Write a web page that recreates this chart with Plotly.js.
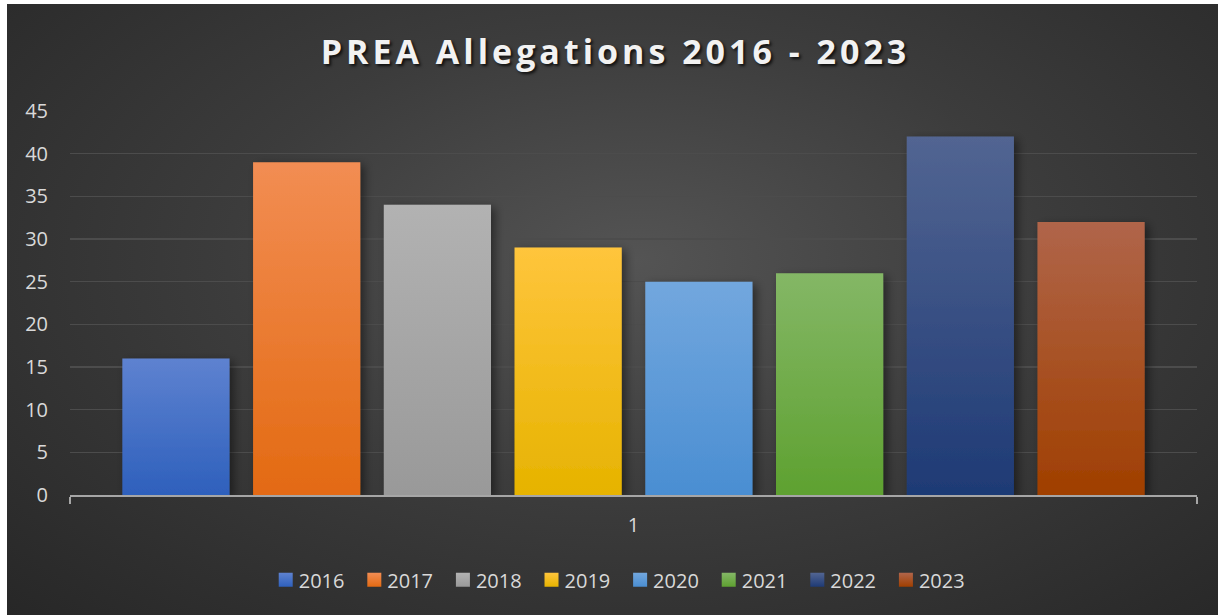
<!DOCTYPE html>
<html>
<head>
<meta charset="utf-8">
<script src="https://cdn.plot.ly/plotly-3.0.1.min.js"></script>
<style>
  html, body { margin: 0; padding: 0; background: #ffffff; width: 1218px; height: 615px; overflow: hidden; }
  #wrap { position: absolute; left: 7px; top: 4px; width: 1211px; height: 611px;
          background: radial-gradient(ellipse 75% 85% at 52% 42%, #545454 0%, #3c3c3c 45%, #262626 100%); }
  #chart { width: 1211px; height: 611px; }
</style>
</head>
<body>
<div id="wrap"><div id="chart"></div></div>
<script>
const categories = ["1"];
const years = ["2016", "2017", "2018", "2019", "2020", "2021", "2022", "2023"];
const allegations = [16, 39, 34, 29, 25, 26, 42, 32];
const yTicks = [0, 5, 10, 15, 20, 25, 30, 35, 40, 45];
const colorsTop = ["#5e82d0", "#f28d53", "#b2b2b2", "#ffc53c", "#72a7de", "#84b766", "#526592", "#b0654a"];
const colorsBottom = ["#2e60bc", "#e36a12", "#999999", "#e6b300", "#4a8ed2", "#5ea130", "#1e3a75", "#a03f00"];
const colorsMid = ["#3f6fc6", "#ec7a2c", "#a5a5a5", "#ffc000", "#5b9bd5", "#70ad47", "#264478", "#9e480e"];

const font = "'Open Sans', 'Liberation Sans', sans-serif";

const traces = years.map((yr, i) => ({
  type: "bar",
  name: yr,
  x: categories,
  y: [allegations[i]],
  marker: { color: colorsMid[i], line: { width: 0 } },
  hoverinfo: "skip"
}));

const layout = {
  width: 1211,
  height: 611,
  paper_bgcolor: "rgba(0,0,0,0)",
  plot_bgcolor: "rgba(0,0,0,0)",
  margin: { l: 63, r: 21, t: 107, b: 120 },
  barmode: "group",
  bargap: 0.072,
  bargroupgap: 0.18,
  showlegend: true,
  title: {
    text: "<b>PREA Allegations 2016 - 2023</b>",
    x: 0.5025,
    xanchor: "center",
    yref: "container",
    y: 0.921,
    yanchor: "middle",
    font: { family: font, size: 34, color: "#f2f2f2", shadow: "2px 2px 3px rgba(0,0,0,0.75)" }
  },
  xaxis: {
    type: "category",
    range: [-0.5, 0.5],
    showline: true,
    linecolor: "#a6a6a6",
    linewidth: 2,
    ticks: "outside",
    tickson: "boundaries",
    ticklen: 7,
    tickwidth: 2,
    tickcolor: "#a6a6a6",
    showgrid: false,
    ticklabelstandoff: 11,
    tickfont: { family: font, size: 20, color: "#d9d9d9" },
    fixedrange: true
  },
  yaxis: {
    range: [0, 45],
    tickvals: yTicks,
    ticktext: yTicks.map(String),
    showgrid: true,
    gridcolor: "#4c4c4c",
    gridwidth: 1.5,
    zeroline: false,
    showline: false,
    ticks: "",
    ticklabelstandoff: 21,
    tickfont: { family: font, size: 20, color: "#d9d9d9" },
    fixedrange: true
  },
  legend: {
    orientation: "h",
    x: 0.482,
    xanchor: "center",
    y: -0.221,
    yanchor: "middle",
    entrywidth: 43.6,
    entrywidthmode: "pixels",
    font: { family: font, size: 20, color: "#d9d9d9" },
    bgcolor: "rgba(0,0,0,0)",
    itemclick: false,
    itemdoubleclick: false
  }
};

Plotly.newPlot("chart", traces, layout, { displayModeBar: false, staticPlot: true }).then(gd => {
  const svgNS = "http://www.w3.org/2000/svg";
  const svg = gd.querySelector("svg.main-svg");
  let defs = svg.querySelector("defs");
  if (!defs) { defs = document.createElementNS(svgNS, "defs"); svg.insertBefore(defs, svg.firstChild); }
  const filt = document.createElementNS(svgNS, "filter");
  filt.setAttribute("id", "barShadow");
  filt.setAttribute("x", "-20%"); filt.setAttribute("y", "-10%");
  filt.setAttribute("width", "150%"); filt.setAttribute("height", "130%");
  filt.innerHTML = '<feDropShadow dx="4" dy="3" stdDeviation="5" flood-color="#000" flood-opacity="0.45"/>';
  defs.appendChild(filt);
  years.forEach((yr, i) => {
    const g = document.createElementNS(svgNS, "linearGradient");
    g.setAttribute("id", "barGrad" + i);
    g.setAttribute("x1", "0"); g.setAttribute("y1", "0");
    g.setAttribute("x2", "0"); g.setAttribute("y2", "1");
    g.innerHTML = '<stop offset="0" stop-color="' + colorsTop[i] + '"/><stop offset="1" stop-color="' + colorsBottom[i] + '"/>';
    defs.appendChild(g);
  });
  gd.querySelectorAll(".barlayer .trace").forEach((tg, i) => {
    tg.querySelectorAll("path").forEach(p => {
      p.style.fill = "url(#barGrad" + i + ")";
      p.setAttribute("filter", "url(#barShadow)");
    });
  });
  gd.querySelectorAll(".legend .traces").forEach((li, i) => {
    const pts = li.querySelector(".legendpoints");
    if (pts) pts.setAttribute("transform", "translate(7,0)");
    li.querySelectorAll(".legendpoints path").forEach(p => {
      p.setAttribute("d", "M7,7H-7V-7H7Z");
      p.style.fill = "url(#barGrad" + i + ")";
      p.style.stroke = "none";
    });
  });
  const t = gd.querySelector(".gtitle");
  if (t) { t.style.letterSpacing = "4px"; }
});
</script>
</body>
</html>
